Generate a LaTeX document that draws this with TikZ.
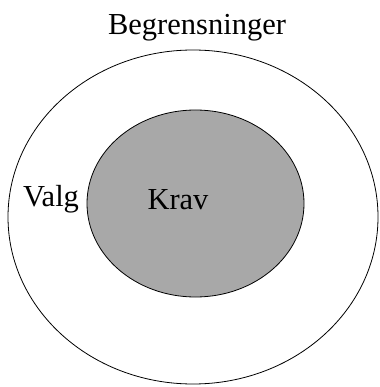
\documentclass[tikz,border=0pt]{standalone}
\usepackage{fontspec}
\setmainfont{Liberation Serif}
\usepackage{xcolor}
\definecolor{kravgray}{RGB}{168,168,168}
\usetikzlibrary{shapes.geometric}

\begin{document}
\begin{tikzpicture}[
  x=1pt,y=1pt,
  ring/.style={draw,ellipse,line width=0.8pt,inner sep=0pt},
  lbl/.style={font=\fontsize{30.5}{33}\selectfont,inner sep=0pt}
]
  \useasboundingbox (0,0) rectangle (379,-387);
  % Outer ring
  \node[ring,minimum width=370,minimum height=334] (begr) at (193,-217) {};
  % Inner grey area
  \node[ring,fill=kravgray,minimum width=217,minimum height=187] (krav) at (195.5,-203.5) {};
  % Labels
  \node[lbl] (tbegr) at (197,-28) {Begrensninger};
  \node[lbl] (tvalg) at (51,-199) {Valg};
  \node[lbl] (tkrav) at (178,-200) {Krav};
\end{tikzpicture}
\end{document}
